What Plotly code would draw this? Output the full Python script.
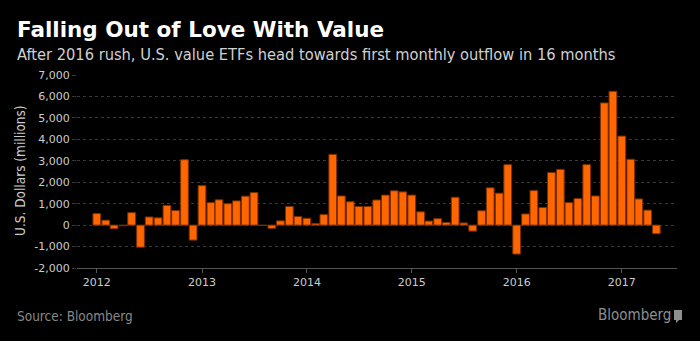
import plotly.graph_objects as go
import pandas as pd

months = pd.date_range("2012-01-01", "2017-05-01", freq="MS").strftime("%Y-%m-%d").tolist()
flows = [
    540, 230, -170, -30, 580, -1030, 380, 340, 920, 680, 3050, -700,
    1840, 1050, 1180, 1000, 1130, 1350, 1520, -20, -150, 200, 870, 400,
    320, 80, 490, 3300, 1360, 1090, 870, 870, 1170, 1400, 1600, 1550,
    1400, 620, 190, 300, 120, 1300, 100, -280, 670, 1740, 1490, 2820,
    -1350, 520, 1610, 820, 2450, 2600, 1050, 1240, 2820, 1360, 5700, 6240,
    4150, 3070, 1220, 700, -400,
]
year_ticks = ["2012-01-01", "2013-01-01", "2014-01-01", "2015-01-01", "2016-01-01", "2017-01-01"]
year_labels = ["2012", "2013", "2014", "2015", "2016", "2017"]
y_ticks = [-2000, -1000, 0, 1000, 2000, 3000, 4000, 5000, 6000, 7000]
y_labels = ["-2,000", "-1,000", "0", "1,000", "2,000", "3,000", "4,000", "5,000", "6,000", "7,000"]

COND = "DejaVu Sans Condensed, DejaVu Sans, sans-serif"
WIDE = "DejaVu Sans, sans-serif"

fig = go.Figure(go.Bar(
    x=months, y=flows,
    marker=dict(color="#ff6600", line=dict(color="#7a2e00", width=1)),
    width=[27 * 24 * 3600 * 1000] * len(months),
))

def py(px):
    # convert pixel row to paper y (plot area from 75 to 268)
    return (268 - px) / 193

def px_(x):
    return (x - 77) / 600

fig.update_layout(
    width=700, height=341,
    margin=dict(l=77, r=23, t=75, b=73),
    paper_bgcolor="#000000", plot_bgcolor="#000000",
    font=dict(family=WIDE, color="#cccccc", size=11),
    showlegend=False,
    xaxis=dict(
        range=["2011-10-24", "2017-07-12"],
        tickvals=year_ticks, ticktext=year_labels,
        showgrid=False, zeroline=False,
        showline=True, linecolor="#555555", linewidth=1,
        ticks="outside", ticklen=4, tickcolor="#555555",
        tickfont=dict(size=11, color="#cccccc", family=WIDE),
    ),
    yaxis=dict(
        range=[-2000, 7000],
        tickvals=y_ticks, ticktext=y_labels,
        showgrid=True, gridcolor="#3a3a3a", griddash="dot", gridwidth=1,
        zeroline=False, showline=False,
        ticks="outside", ticklen=4, tickcolor="#3a3a3a",
        tickfont=dict(size=11, color="#cccccc", family=WIDE),
    ),
    annotations=[
        dict(text="<b>Falling Out of Love With Value</b>", xref="paper", yref="paper",
             x=px_(15), y=py(29.5), xanchor="left", yanchor="middle",
             showarrow=False, font=dict(size=21.5, color="#ffffff", family=WIDE)),
        dict(text="After 2016 rush, U.S. value ETFs head towards first monthly outflow in 16 months",
             xref="paper", yref="paper", x=px_(15), y=py(54),
             xanchor="left", yanchor="middle", showarrow=False,
             font=dict(size=16.3, color="#d0d0d0", family=COND)),
        dict(text="U.S. Dollars (millions)", xref="paper", yref="paper",
             x=px_(20), y=py(171), xanchor="center", yanchor="middle",
             textangle=-90, showarrow=False, font=dict(size=13.5, color="#cccccc", family=COND)),
        dict(text="Source: Bloomberg", xref="paper", yref="paper",
             x=px_(15), y=py(316), xanchor="left", yanchor="middle",
             showarrow=False, font=dict(size=13.5, color="#888888", family=COND)),
        dict(text="Bloomberg", xref="paper", yref="paper",
             x=px_(673), y=py(315), xanchor="right", yanchor="middle",
             showarrow=False, font=dict(size=15, color="#8f8f8f", family=COND)),
    ],
    shapes=[
        dict(type="rect", xref="paper", yref="paper",
             x0=px_(674), x1=px_(682), y0=py(320), y1=py(310),
             fillcolor="#8f8f8f", line=dict(width=0)),
        dict(type="path", xref="paper", yref="paper",
             path="M %f,%f L %f,%f L %f,%f Z" % (px_(676), py(320), px_(679), py(320), px_(676), py(323)),
             fillcolor="#8f8f8f", line=dict(width=0)),
    ],
)

fig.write_html("out.html")
